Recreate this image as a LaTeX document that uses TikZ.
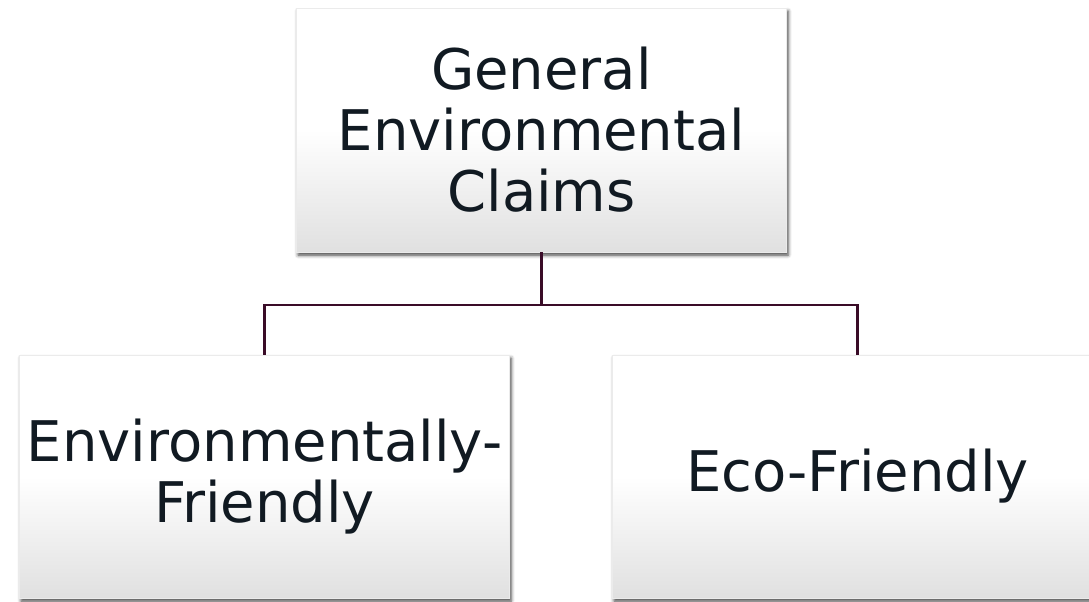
\documentclass[tikz,border=0pt]{standalone}
\usepackage{fontspec}
\setmainfont{DejaVu Sans}
\usetikzlibrary{shadows.blur}

\definecolor{inkdark}{RGB}{17,26,34}
\definecolor{linkplum}{RGB}{58,12,40}
\definecolor{boxbot}{RGB}{224,224,224}

% white over the upper half, fading to light grey at the bottom
\pgfdeclareverticalshading{boxfade}{100bp}{%
  color(0bp)=(boxbot); color(25bp)=(boxbot); color(50bp)=(white); color(100bp)=(white)}

\tikzset{
  claimbox/.style={rectangle, shading=boxfade, draw=black!8, line width=0.4pt,
    minimum width=490pt, minimum height=244pt, inner sep=0pt,
    align=center, text=inkdark, font=\fontsize{56}{61}\selectfont,
    blur shadow={shadow xshift=1.5pt, shadow yshift=-3pt,
      shadow blur radius=3.5pt, shadow opacity=75}},
  link/.style={draw=linkplum, line width=2.7pt}
}

\begin{document}
\begin{tikzpicture}[x=1pt, y=-1pt]
  \useasboundingbox (0,0) rectangle (1089,602);

  \node[claimbox] (top)   at (541.5,130)   {General\\Environmental\\Claims};
  \node[claimbox, minimum height=243pt] (left)  at (264.5,476.5) {Environmentally-\\Friendly};
  \node[claimbox, minimum height=243pt] (right) at (857.5,476.5) {Eco-Friendly};

  \coordinate (bus) at (541.5,305);
  \draw[link] (top.south) -- (bus) -| (left.north);
  \draw[link] (bus) -| (right.north);
\end{tikzpicture}
\end{document}
